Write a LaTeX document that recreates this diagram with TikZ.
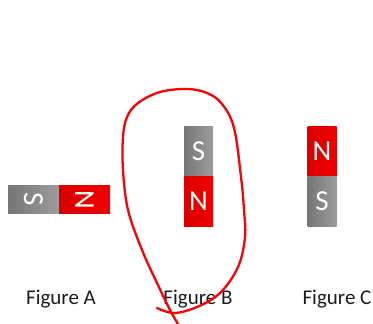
\documentclass[tikz,border=0pt]{standalone}
\usepackage{fontspec}
\setmainfont{Carlito}
\definecolor{greyA}{HTML}{767676}
\definecolor{greyB}{HTML}{9C9C9C}
\definecolor{redA}{HTML}{DA0000}
\definecolor{redB}{HTML}{F20000}
\definecolor{ink}{HTML}{1C1C1C}
\begin{document}
\begin{tikzpicture}[x=1pt,y=-1pt,
  pole/.style={draw=none, inner sep=0pt, outer sep=0pt, text=white,
    font=\fontsize{29}{29}\selectfont},
  spole/.style={pole, left color=greyA, right color=greyB},
  npole/.style={pole, left color=redA, right color=redB},
  vhalf/.style={minimum width=29pt, minimum height=50pt},
  hhalf/.style={rotate=-90, minimum width=28pt, minimum height=51pt},
  caption/.style={anchor=base, text=ink, font=\fontsize{21}{21}\selectfont},
  loop/.style={draw=red, line width=2.3pt, line cap=round, line join=round}
]
\useasboundingbox (0,0) rectangle (373,324);

% Figure A: horizontal magnet, S left, N right
\node[spole, hhalf] (aS) at (33.5,199.5) {S};
\node[npole, hhalf] (aN) at (84.5,199.5) {N};

% Figure B: vertical magnet, S on top
\node[spole, vhalf] (bS) at (198.5,151) {S};
\node[npole, vhalf] (bN) at (198.5,201) {N};

% Figure C: vertical magnet, N on top
\node[npole, vhalf] (cN) at (322,151) {N};
\node[spole, vhalf] (cS) at (322,201) {S};

% captions
\node[caption] (capA) at (61,304) {Figure A};
\node[caption] (capB) at (198,304) {Figure B};
\node[caption] (capC) at (337,304) {Figure C};

% hand-drawn loop around Figure B
\draw[loop] plot[smooth, tension=0.6] coordinates {
  (178,324) (170,310) (157,283) (142,250) (128,210) (123,170) (123,137)
  (127,117) (138,103) (160,92) (187,89) (207,93) (222,104) (234,128)
  (241,177) (244,210) (245,237) (238,267) (220,293) (197,307) (174,313)
  (157,308)};
\end{tikzpicture}
\end{document}
